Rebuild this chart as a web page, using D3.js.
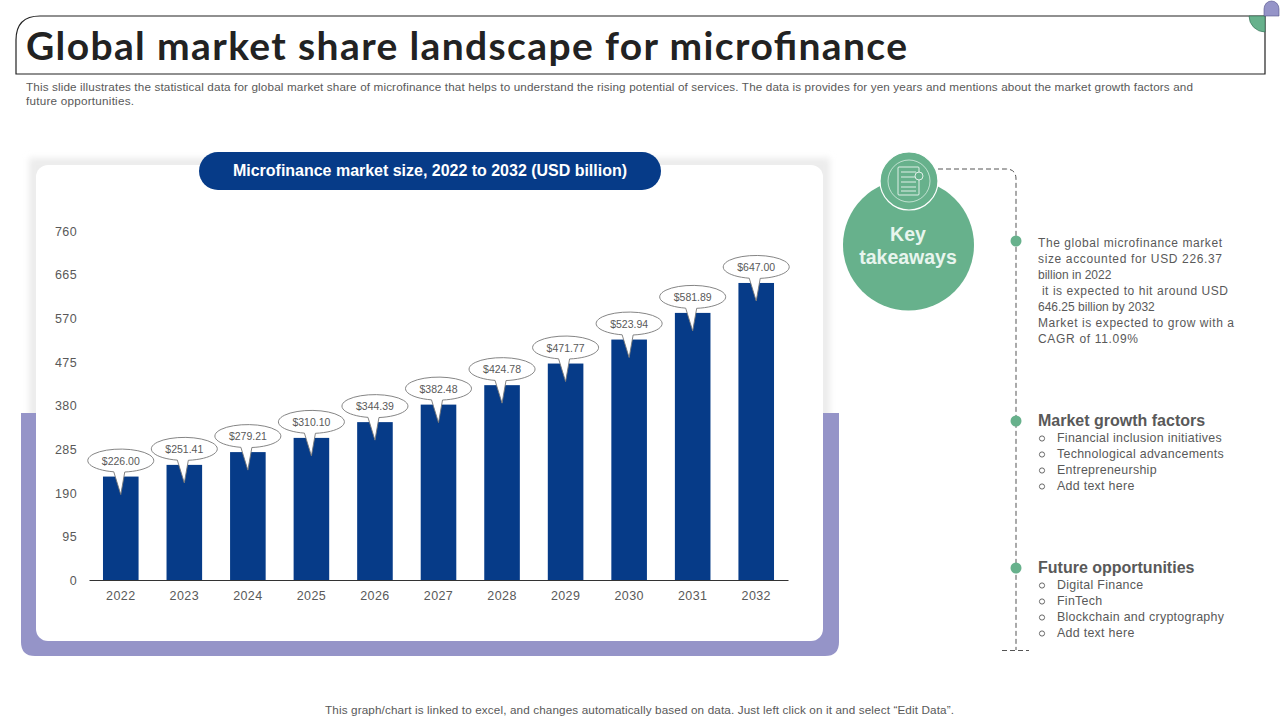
<!DOCTYPE html>
<html>
<head>
<meta charset="utf-8">
<script src="https://cdn.jsdelivr.net/npm/d3@7"></script>
<style>
  html, body { margin: 0; padding: 0; background: #fff; }
  svg { display: block; }
  text { font-family: "Liberation Sans", Arial, sans-serif; }
</style>
</head>
<body>
<svg id="slide" width="1280" height="720"></svg>
<script>
var years = ["2022","2023","2024","2025","2026","2027","2028","2029","2030","2031","2032"];
var marketSize = [226.00,251.41,279.21,310.10,344.39,382.48,424.78,471.77,523.94,581.89,647.00];
var yTicks = [0,95,190,285,380,475,570,665,760];

var introLines = [
  {t:"This slide illustrates the statistical data for global market share of microfinance that helps to understand the rising potential of services. The data is provides for yen years and mentions about the market growth factors and", w:1167},
  {t:"future opportunities.", w:108}
];
var takeawayLines = [
  {t:"The global microfinance market", w:184},
  {t:"size accounted for USD 226.37", w:184},
  {t:"billion in 2022"},
  {t:" it is expected to hit around USD", w:190},
  {t:"646.25 billion by 2032"},
  {t:"Market is expected to grow with a", w:196},
  {t:"CAGR of 11.09%", w:100}
];
var growthFactors = ["Financial inclusion initiatives","Technological advancements","Entrepreneurship","Add text here"];
var futureOpps = ["Digital Finance","FinTech","Blockchain and cryptography","Add text here"];

var navy = "#063b88", green = "#67b18c", purple = "#9594c8", grey = "#595959";
var svg = d3.select("#slide");

// header
svg.append("path")
  .attr("d","M16,74 V40 Q16,16 40,16 H1265 V74 Z")
  .attr("fill","#fff").attr("stroke","#222").attr("stroke-width",1.2);
svg.append("path")
  .attr("d","M1249,16 A16,16 0 0 0 1265,32 V16 Z")
  .attr("fill",green).attr("stroke","#2f6b52").attr("stroke-width",0.6);
svg.append("path")
  .attr("d","M1264,16 V9 A7.5,8 0 0 1 1279,9 V16 Z")
  .attr("fill",purple).attr("stroke","#55548c").attr("stroke-width",0.6);
svg.append("text").attr("x",26).attr("y",60)
  .attr("font-size",39).attr("font-weight","bold").attr("fill","#222")
  .style("font-family","Lato, sans-serif")
  .attr("textLength",881).text("Global market share landscape for microfinance");

svg.selectAll(".intro").data(introLines).enter().append("text")
  .attr("class","intro")
  .attr("x",26).attr("y",function(d,i){return 91+i*14;})
  .attr("font-size",11.7).attr("fill",grey)
  .attr("textLength",function(d){return d.w;})
  .text(function(d){return d.t;});

// chart card
var defs = svg.append("defs");
var blur = defs.append("filter").attr("id","soft")
  .attr("x","-5%").attr("y","-5%").attr("width","110%").attr("height","110%");
blur.append("feGaussianBlur").attr("stdDeviation",3);

svg.append("rect").attr("x",29).attr("y",158).attr("width",801).attr("height",262)
  .attr("fill","#ececec").attr("filter","url(#soft)");
svg.append("path")
  .attr("d","M21,413 H839 V642 Q839,656 825,656 H35 Q21,656 21,642 Z")
  .attr("fill",purple);
svg.append("rect").attr("x",36).attr("y",165).attr("width",787).attr("height",476).attr("rx",12)
  .attr("fill","#fff");

svg.append("rect").attr("x",199).attr("y",152).attr("width",462).attr("height",38).attr("rx",19)
  .attr("fill",navy);
svg.append("text").attr("x",430).attr("y",176).attr("text-anchor","middle")
  .attr("font-size",16).attr("font-weight","bold").attr("fill","#fff")
  .attr("textLength",394)
  .text("Microfinance market size, 2022 to 2032 (USD billion)");

// bars
var xScale = d3.scaleBand().domain(years).range([89,788]).paddingInner(0.44).paddingOuter(0.22);
var yScale = d3.scaleLinear().domain([0,760]).range([580.5,231]);

var xAxis = d3.axisBottom(xScale).tickSize(0).tickPadding(11);
var yAxis = d3.axisLeft(yScale).tickValues(yTicks).tickSize(0).tickPadding(0);

var gx = svg.append("g").attr("transform","translate(0,580)").call(xAxis);
gx.select(".domain").attr("stroke","#333").attr("stroke-width",1);
gx.selectAll("text").attr("font-size",12.5).attr("fill",grey)
  .style("font-family",'"Liberation Sans", Arial, sans-serif').style("letter-spacing","0.4px");

var gy = svg.append("g").attr("transform","translate(77,0)").call(yAxis);
gy.select(".domain").remove();
gy.selectAll("text").attr("font-size",12.5).attr("fill",grey)
  .style("font-family",'"Liberation Sans", Arial, sans-serif').style("letter-spacing","0.4px");

var points = years.map(function(y,i){return {year:y, value:marketSize[i]};});

svg.selectAll(".bar").data(points).enter().append("rect")
  .attr("class","bar")
  .attr("x",function(d){return xScale(d.year);})
  .attr("y",function(d){return yScale(d.value);})
  .attr("width",xScale.bandwidth())
  .attr("height",function(d){return 580-yScale(d.value);})
  .attr("fill",navy);

// callouts
var callout = svg.selectAll(".callout").data(points).enter().append("g")
  .attr("class","callout")
  .attr("transform",function(d){
    return "translate("+(xScale(d.year)+xScale.bandwidth()/2)+","+(yScale(d.value)-16)+")";
  });
callout.append("path")
  .attr("d",function(){
    var rx=33, ry=11.5;
    var a=Math.asin(7/rx), yy=ry*Math.cos(a);
    return "M-7,"+yy+" A"+rx+","+ry+" 0 1 1 4,"+(ry*Math.cos(Math.asin(4/rx)))+" L0,34 Z";
  })
  .attr("fill","#fff").attr("stroke","#777").attr("stroke-width",0.9);
callout.append("text").attr("text-anchor","middle").attr("y",4)
  .attr("font-size",10.5).attr("fill",grey)
  .text(function(d){return "$"+d.value.toFixed(2);});

// key takeaways circle
svg.append("path")
  .attr("d","M938,169 H1006 Q1016,169 1016,179 V650")
  .attr("fill","none").attr("stroke","#555").attr("stroke-width",1).attr("stroke-dasharray","5 3");
svg.append("line").attr("x1",1002).attr("x2",1029).attr("y1",650.5).attr("y2",650.5)
  .attr("stroke","#555").attr("stroke-dasharray","5 3");

svg.append("circle").attr("cx",908.5).attr("cy",245).attr("r",65.5).attr("fill",green);
svg.append("circle").attr("cx",909).attr("cy",181).attr("r",29).attr("fill",green)
  .attr("stroke","#fff").attr("stroke-width",1.2);
svg.append("circle").attr("cx",909).attr("cy",181).attr("r",21).attr("fill","none")
  .attr("stroke","#d8eee2").attr("stroke-width",0.8);
var icon = svg.append("g").attr("stroke","#fff").attr("fill","none").attr("stroke-width",0.8);
icon.append("rect").attr("x",898).attr("y",167).attr("width",21).attr("height",28).attr("rx",1);
[172,177,182,187,191].forEach(function(y){
  icon.append("line").attr("x1",901).attr("x2",916).attr("y1",y).attr("y2",y);
});
icon.append("circle").attr("cx",919).attr("cy",176).attr("r",4).attr("fill",green);

svg.selectAll(".key").data(["Key","takeaways"]).enter().append("text")
  .attr("class","key")
  .attr("x",908).attr("y",function(d,i){return 241+i*23;})
  .attr("text-anchor","middle").attr("font-size",19.5).attr("font-weight","bold").attr("fill","#e8f5ee")
  .text(function(d){return d;});

// right column
[241,421,568].forEach(function(y){
  svg.append("ellipse").attr("cx",1016).attr("cy",y).attr("rx",5.5).attr("ry",5.5).attr("fill",green);
});

svg.selectAll(".take").data(takeawayLines).enter().append("text")
  .attr("class","take")
  .attr("x",1038).attr("y",function(d,i){return 247+i*16;})
  .attr("font-size",12).attr("fill",grey)
  .attr("xml:space","preserve")
  .attr("textLength",function(d){return d.w||null;})
  .text(function(d){return d.t;});

function bulletList(title, items, titleY) {
  svg.append("text").attr("x",1038).attr("y",titleY)
    .attr("font-size",16).attr("font-weight","bold").attr("fill",grey).text(title);
  items.forEach(function(d,i){
    var y = titleY+16+i*16;
    svg.append("circle").attr("cx",1042).attr("cy",y-3.5).attr("r",2.6)
      .attr("fill","none").attr("stroke",grey).attr("stroke-width",0.9);
    svg.append("text").attr("x",1057).attr("y",y)
      .attr("font-size",12.4).attr("fill",grey).style("letter-spacing","0.3px").text(d);
  });
}
bulletList("Market growth factors", growthFactors, 426);
bulletList("Future opportunities", futureOpps, 573);

svg.append("text").attr("x",639.5).attr("y",714).attr("text-anchor","middle")
  .attr("font-size",11.7).attr("fill",grey)
  .attr("textLength",629)
  .text("This graph/chart is linked to excel, and changes automatically based on data. Just left click on it and select \u201cEdit Data\u201d.");
</script>
</body>
</html>
